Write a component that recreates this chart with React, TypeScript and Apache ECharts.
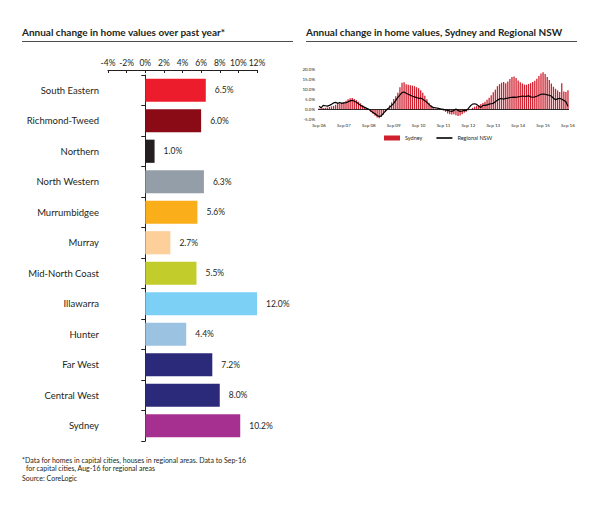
import React, { useEffect, useRef } from "react";
import * as echarts from "echarts";

const regions = [
  "South Eastern",
  "Richmond-Tweed",
  "Northern",
  "North Western",
  "Murrumbidgee",
  "Murray",
  "Mid-North Coast",
  "Illawarra",
  "Hunter",
  "Far West",
  "Central West",
  "Sydney",
];
const regionChange = [6.5, 6.0, 1.0, 6.3, 5.6, 2.7, 5.5, 12.0, 4.4, 7.2, 8.0, 10.2];
const regionColors = [
  "#ec1c2d", "#8a0a16", "#231f20", "#939ea8", "#f9ae1a", "#fdd09b",
  "#c2cd2c", "#7dd0f5", "#9cc2e2", "#2b2a7a", "#2b2a7a", "#a6308f",
];
const axisTicks = [-4, -2, 0, 2, 4, 6, 8, 10, 12];

const monthNames = ["Sep", "Oct", "Nov", "Dec", "Jan", "Feb", "Mar", "Apr", "May", "Jun", "Jul", "Aug"];
const yearLabels = ["06", "07", "08", "09", "10", "11", "12", "13", "14", "15", "16"];

// Monthly annual change, Sep 06 .. Sep 16
const sydney = [
  0.5, 0.6, 0.7, 0.8, 1.0, 1.2, 1.5, 1.8, 2.3, 2.7, 3.0, 3.3, 3.6,
  4.3, 5.0, 5.5, 5.6, 5.2, 4.6, 3.8, 3.0, 2.0, 1.2, 0.5, -0.3,
  -1.2, -2.2, -3.2, -4.0, -4.4, -3.8, -2.6, -1.2, 0.4, 2.0, 3.5, 5.2,
  6.5, 8.3, 11.0, 13.2, 13.5, 12.4, 12.2, 12.0, 11.8, 11.5, 11.0, 10.5,
  9.5, 8.3, 6.8, 5.0, 3.3, 2.0, 1.2, 0.5, 0.2, 0.0, -0.3, -0.6,
  -1.2, -2.0, -2.4, -2.5, -2.4, -2.9, -3.3, -3.0, -2.4, -1.6, -1.0, -0.4,
  0.2, 0.8, 1.3, 1.8, 2.2, 2.7, 3.2, 3.8, 4.8, 5.8, 7.0, 8.5,
  9.8, 11.5, 12.5, 13.2, 13.6, 13.0, 13.8, 15.0, 16.0, 16.3, 15.5, 14.3,
  13.5, 12.8, 12.3, 12.2, 12.6, 13.0, 13.6, 14.2, 15.2, 16.5, 17.8, 18.4,
  17.5, 16.0, 14.5, 12.8, 11.2, 10.2, 9.4, 8.6, 13.0, 8.8, 8.6, 9.5,
];
const regionalNSW = [
  1.5, 0.8, 2.0, 1.8, 1.6, 2.0, 2.5, 3.2, 3.5, 3.0, 3.4, 3.0, 3.2,
  3.3, 3.8, 4.2, 4.5, 4.0, 3.5, 2.8, 2.0, 1.5, 1.0, 0.5, 0.0,
  -0.8, -1.5, -2.2, -3.0, -3.5, -3.2, -2.0, -0.8, 0.2, 1.0, 2.0, 3.0,
  4.5, 6.0, 7.2, 8.3, 8.6, 8.0, 7.5, 7.0, 6.5, 6.2, 5.8, 5.5,
  5.6, 5.0, 4.3, 3.5, 2.5, 1.5, 1.0, 0.8, 0.6, 0.4, 0.2, 0.0,
  -0.3, -0.5, -0.8, -1.0, -0.5, 0.2, -0.5, -1.0, -0.8, -0.5, -0.6, 0.5,
  1.8, 2.6, 2.8, 2.5, 1.6, 1.0, 2.0, 2.0, 2.2, 2.6, 2.8, 3.0,
  3.8, 4.6, 5.2, 5.4, 5.0, 5.5, 5.6, 5.9, 6.0, 6.1, 6.0, 6.2,
  6.4, 6.6, 6.5, 6.4, 6.8, 6.2, 6.0, 6.2, 6.5, 7.0, 7.5, 7.6,
  7.5, 7.2, 7.0, 6.5, 5.5, 4.8, 5.2, 5.5, 5.0, 4.5, 3.8, 1.5,
];

const months: string[] = [];
for (let y = 0; y < yearLabels.length; y++) {
  for (let m = 0; m < 12; m++) {
    if (y === yearLabels.length - 1 && m > 0) break;
    const yy = m < 4 ? yearLabels[y] : String(Number(yearLabels[y]) + 1).padStart(2, "0");
    months.push(monthNames[m] + " " + yy);
  }
}

const INK = "#231f20";
const FONT = "Lato";

export default function App() {
  const ref = useRef<HTMLDivElement>(null);
  useEffect(() => {
    if (!ref.current) return;
    const chart = echarts.init(ref.current, null, { renderer: "svg" });
    chart.setOption({
      animation: false,
      backgroundColor: "#ffffff",
      textStyle: { fontFamily: FONT, color: INK },
      title: [
        {
          text: "Annual change in home values over past year*",
          left: 22,
          top: 27,
          padding: 0,
          textStyle: { fontSize: 10, fontWeight: "bold", color: INK, fontFamily: FONT },
        },
        {
          text: "Annual change in home values, Sydney and Regional NSW",
          left: 306,
          top: 27,
          padding: 0,
          textStyle: { fontSize: 10, fontWeight: "bold", color: INK, fontFamily: FONT },
        },
      ],
      legend: {
        left: 384,
        top: 135,
        padding: 0,
        itemWidth: 16,
        itemHeight: 5,
        itemGap: 14,
        textStyle: { fontSize: 5.5, color: INK, fontFamily: FONT },
        data: [
          { name: "Sydney", icon: "rect" },
          { name: "Regional NSW", icon: "path://M0,0h20v2h-20z" },
        ],
      },
      graphic: [
        { type: "line", shape: { x1: 22, y1: 41.5, x2: 293, y2: 41.5 }, style: { stroke: INK, lineWidth: 0.8 } },
        { type: "line", shape: { x1: 306, y1: 41.5, x2: 577, y2: 41.5 }, style: { stroke: INK, lineWidth: 0.8 } },
        {
          type: "text",
          left: 22,
          top: 456,
          style: {
            text: "*Data for homes in capital cities, houses in regional areas. Data to Sep-16",
            fontSize: 7,
            fontFamily: FONT,
            fill: INK,
          },
        },
        {
          type: "text",
          left: 26,
          top: 464,
          style: { text: "for capital cities, Aug-16 for regional areas", fontSize: 7, fontFamily: FONT, fill: INK },
        },
        {
          type: "text",
          left: 22,
          top: 474,
          style: { text: "Source: CoreLogic", fontSize: 7, fontFamily: FONT, fill: INK },
        },
      ],
      grid: [
        { left: 108, top: 75, width: 149, height: 366, outerBoundsMode: "none", containLabel: false },
        { left: 318, top: 69, width: 251, height: 50.5, outerBoundsMode: "none", containLabel: false },
      ],
      xAxis: [
        {
          gridIndex: 0,
          type: "value",
          position: "top",
          min: axisTicks[0],
          max: axisTicks[axisTicks.length - 1],
          interval: 2,
          offset: 5,
          axisLine: { show: true, lineStyle: { color: INK, width: 1 } },
          axisTick: { show: true, inside: true, length: 3, lineStyle: { color: INK } },
          splitLine: { show: false },
          axisLabel: { formatter: "{value}%", fontSize: 8.5, margin: 3, color: INK, fontFamily: FONT },
        },
        {
          gridIndex: 1,
          type: "category",
          data: months,
          boundaryGap: true,
          axisLine: { show: false },
          axisTick: { show: false },
          axisLabel: { interval: 11, fontSize: 4.5, margin: 3, color: INK, fontFamily: FONT },
        },
      ],
      yAxis: [
        {
          gridIndex: 0,
          type: "category",
          data: regions,
          inverse: true,
          axisLine: { show: true, lineStyle: { color: INK, width: 1 } },
          axisTick: { show: true, length: 4, lineStyle: { color: INK } },
          axisLabel: { margin: 9, fontSize: 9.5, color: INK, fontFamily: FONT },
        },
        {
          gridIndex: 1,
          type: "value",
          min: -5,
          max: 20,
          interval: 5,
          axisLine: { show: false },
          axisTick: { show: false },
          splitLine: { show: false },
          axisLabel: {
            formatter: (v: number) => v.toFixed(1) + "%",
            fontSize: 4.5,
            margin: 3,
            color: INK,
            fontFamily: FONT,
          },
        },
      ],
      series: [
        {
          type: "bar",
          xAxisIndex: 0,
          yAxisIndex: 0,
          barCategoryGap: "24%",
          data: regionChange.map((v, i) => ({ value: v, itemStyle: { color: regionColors[i] } })),
          label: {
            show: true,
            position: "right",
            distance: 9,
            fontSize: 8.5,
            color: INK,
            fontFamily: FONT,
            formatter: (p: any) => Number(p.value).toFixed(1) + "%",
          },
        },
        {
          name: "Sydney",
          type: "bar",
          xAxisIndex: 1,
          yAxisIndex: 1,
          barWidth: "62%",
          itemStyle: { color: "#d01f2e" },
          data: sydney,
          markLine: {
            silent: true,
            symbol: "none",
            label: { show: false },
            lineStyle: { color: "#000", width: 0.8, type: "solid" },
            data: [{ yAxis: 0 }],
          },
        },
        {
          name: "Regional NSW",
          type: "line",
          xAxisIndex: 1,
          yAxisIndex: 1,
          symbol: "none",
          showSymbol: false,
          lineStyle: { color: "#000", width: 1.2 },
          itemStyle: { color: "#000" },
          data: regionalNSW,
        },
      ],
    });
    return () => chart.dispose();
  }, []);
  return (
    <div
      ref={ref}
      style={{ position: "fixed", left: 0, top: 0, width: 600, height: 512, background: "#fff" }}
    />
  );
}
